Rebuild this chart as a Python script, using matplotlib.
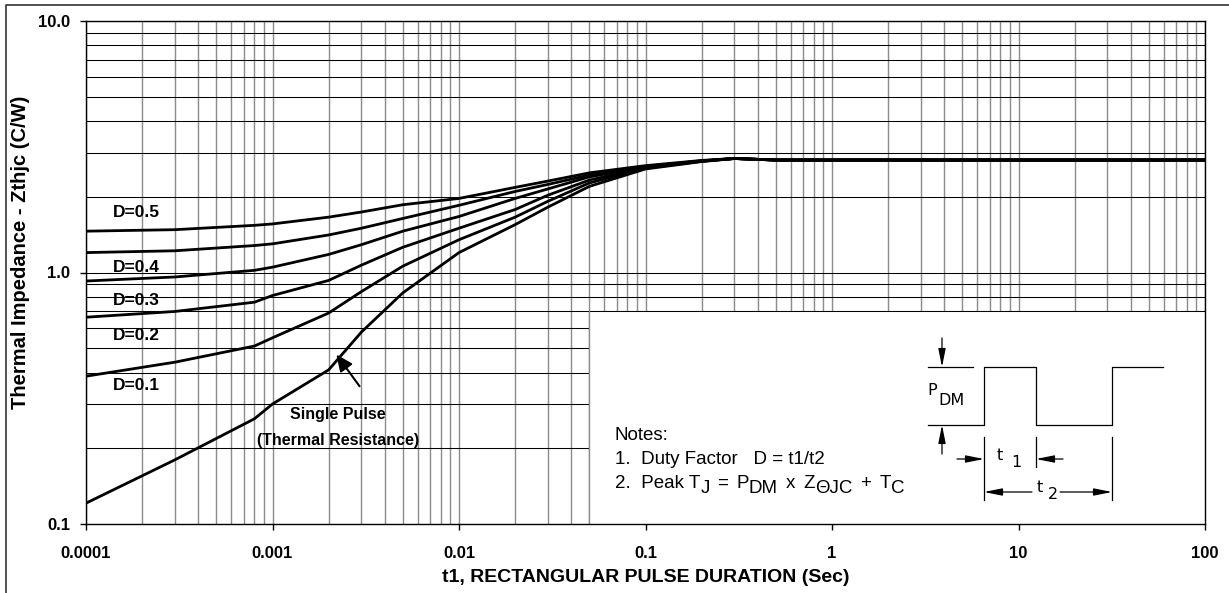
"""
Transient thermal impedance vs rectangular pulse duration (log-log), with duty-factor curves.
"""
import matplotlib
matplotlib.use("Agg")
import matplotlib.pyplot as plt
from matplotlib.patches import Rectangle
from matplotlib.ticker import LogLocator, FixedLocator, FixedFormatter, NullFormatter

plt.rcParams["font.family"] = ["Liberation Sans", "DejaVu Sans"]

# pulse duration t1 (s)
t_pulse = [1e-4, 3e-4, 8e-4, 1e-3, 2e-3, 3e-3, 5e-3, 1e-2, 2e-2, 3e-2, 5e-2,
           0.1, 0.2, 0.3, 0.5, 1, 10, 100]

# Zthjc (C/W) for each duty factor
z_d05 = [1.46, 1.48, 1.54, 1.56, 1.66, 1.74, 1.86, 1.97, 2.18, 2.31, 2.49,
         2.66, 2.79, 2.84, 2.80, 2.80, 2.80, 2.80]
z_d04 = [1.20, 1.22, 1.28, 1.30, 1.41, 1.50, 1.64, 1.85, 2.10, 2.24, 2.44,
         2.64, 2.78, 2.84, 2.80, 2.80, 2.80, 2.80]
z_d03 = [0.925, 0.96, 1.02, 1.05, 1.18, 1.29, 1.46, 1.67, 1.97, 2.15, 2.40,
         2.63, 2.78, 2.84, 2.80, 2.80, 2.80, 2.80]
z_d02 = [0.664, 0.70, 0.762, 0.81, 0.93, 1.07, 1.26, 1.50, 1.78, 2.03, 2.33,
         2.61, 2.77, 2.84, 2.80, 2.80, 2.80, 2.80]
z_d01 = [0.387, 0.44, 0.51, 0.55, 0.69, 0.84, 1.06, 1.35, 1.66, 1.92, 2.27,
         2.60, 2.77, 2.84, 2.80, 2.80, 2.80, 2.80]
z_single = [0.121, 0.18, 0.262, 0.30, 0.41, 0.58, 0.83, 1.20, 1.55, 1.82, 2.20,
            2.58, 2.76, 2.84, 2.80, 2.80, 2.80, 2.80]

curve_labels = ["D=0.5", "D=0.4", "D=0.3", "D=0.2", "D=0.1"]
label_y = [1.73, 1.05, 0.774, 0.564, 0.355]

x_ticks = [1e-4, 1e-3, 1e-2, 0.1, 1, 10, 100]
x_tick_labels = ["0.0001", "0.001", "0.01", "0.1", "1", "10", "100"]
y_ticks = [0.1, 1, 10]
y_tick_labels = ["0.1", "1.0", "10.0"]

W, H = 1229, 593
fig = plt.figure(figsize=(W / 100, H / 100), dpi=100)
ax = fig.add_axes([86 / W, 1 - 524 / H, (1205 - 86) / W, (524 - 21) / H])

ax.set_xscale("log")
ax.set_yscale("log")
ax.set_xlim(1e-4, 100)
ax.set_ylim(0.1, 10)

ax.xaxis.set_major_locator(FixedLocator(x_ticks))
ax.xaxis.set_major_formatter(FixedFormatter(x_tick_labels))
ax.yaxis.set_major_locator(FixedLocator(y_ticks))
ax.yaxis.set_major_formatter(FixedFormatter(y_tick_labels))
ax.xaxis.set_minor_locator(LogLocator(base=10, subs=range(2, 10), numticks=30))
ax.yaxis.set_minor_locator(LogLocator(base=10, subs=range(2, 10), numticks=30))
ax.xaxis.set_minor_formatter(NullFormatter())
ax.yaxis.set_minor_formatter(NullFormatter())
ax.tick_params(which="minor", length=0)
ax.tick_params(which="major", direction="out", length=4.5, width=1.0, color="k")
ax.tick_params(axis="x", pad=11)
ax.tick_params(axis="y", pad=7)
for lab in ax.get_xticklabels() + ax.get_yticklabels():
    lab.set_fontweight("bold")
    lab.set_fontsize(12)

ax.xaxis.grid(True, which="both", color="#8c8c8c", lw=1.0)
ax.yaxis.grid(True, which="both", color="black", lw=0.75)
for sp in ax.spines.values():
    sp.set_color("black")
    sp.set_linewidth(1.0)

# blank area for the notes
ax.add_patch(Rectangle((0.05, 0.1), 100 - 0.05, 0.7 - 0.1, facecolor="white",
                       edgecolor="none", zorder=1.8))
ax.hlines(0.7, 0.05, 100, color="black", lw=0.75, zorder=1.9)
ax.vlines(0.05, 0.1, 0.7, color="#8c8c8c", lw=1.0, zorder=1.9)

for z in [z_d05, z_d04, z_d03, z_d02, z_d01, z_single]:
    ax.plot(t_pulse, z, color="black", lw=2.0, zorder=3, solid_joinstyle="round")

for lab, yv in zip(curve_labels, label_y):
    ax.text(1.39e-4, yv, lab, fontsize=12.5, fontweight="bold", va="center", ha="left")

ax.text(2.24e-3, 0.2725, "Single Pulse", fontsize=11.5, fontweight="bold",
        ha="center", va="center")
ax.text(2.24e-3, 0.2148, "(Thermal Resistance)", fontsize=11.5, fontweight="bold",
        ha="center", va="center")
ax.annotate("", xy=(2.2e-3, 0.472), xytext=(2.93e-3, 0.353),
            arrowprops=dict(arrowstyle="-|>,head_length=1.0,head_width=0.45",
                            color="black", lw=1.5, shrinkA=0, shrinkB=0))

fig.text(646 / W, 1 - 577 / H, "t1, RECTANGULAR PULSE DURATION (Sec)",
         fontsize=14, fontweight="bold", ha="center", va="center")
fig.text(21 / W, 1 - 252 / H, "Thermal Impedance - Zthjc (C/W)",
         fontsize=14.5, fontweight="bold", ha="center", va="center", rotation=90)

# pixel overlay for frame, notes and pulse sketch
ov = fig.add_axes([0, 0, 1, 1], zorder=10)
ov.set_xlim(0, W)
ov.set_ylim(H, 0)
ov.axis("off")
ov.patch.set_alpha(0)

ov.plot([6, 6, W], [H, 5, 5], color="#333333", lw=1.2)

renderer = fig.canvas.get_renderer()
note_size = 13.5


def chain(x, y, parts, size=note_size):
    """Draw text pieces side by side: (text, gap before in px, drop in px)."""
    for s, gap, drop in parts:
        x += gap
        t = ov.text(x, y + drop, s, fontsize=size, ha="left", va="baseline")
        x += t.get_window_extent(renderer).width


g = 8
ov.text(615, 440, "Notes:", fontsize=note_size, ha="left", va="baseline")
ov.text(615, 464, "1.  Duty Factor   D = t1/t2", fontsize=note_size,
        ha="left", va="baseline")
chain(615, 488, [("2.  Peak T", 0, 0), ("J", 0, 5), ("=", g, 0), ("P", g, 0),
                 ("DM", 0, 5), ("x", g, 0), ("Z", g, 0), ("\u0398JC", 0, 5),
                 ("+", g, 0), ("T", g, 0), ("C", 0, 5)])

lw_d = 0.9
# pulse train
ov.plot([928, 984, 984, 1036, 1036, 1112, 1112, 1163],
        [425, 425, 367, 367, 425, 425, 367, 367], color="black", lw=lw_d)
ov.plot([928, 973], [367, 367], color="black", lw=lw_d)
# extension lines
ov.plot([984, 984], [437, 500], color="black", lw=lw_d)
ov.plot([1036, 1036], [437, 467], color="black", lw=lw_d)
ov.plot([1112, 1112], [437, 500], color="black", lw=lw_d)

arrow = dict(arrowstyle="-|>,head_length=1.1,head_width=0.22", color="black",
             lw=lw_d, shrinkA=0, shrinkB=0)
for tip, tail in [((942, 367), (942, 338)), ((942, 425), (942, 454)),
                  ((984, 459), (957, 459)), ((1036, 459), (1063, 459)),
                  ((984, 492), (1032, 492)), ((1112, 492), (1060, 492))]:
    ov.annotate("", xy=tip, xytext=tail, arrowprops=arrow)

dfont = dict(fontsize=11.5, family="DejaVu Sans", ha="left", va="baseline")
ov.text(927, 395, "P", **dfont)
ov.text(938, 405, "DM", **dfont)
ov.text(997, 460, "t", **dfont)
ov.text(1011, 467, "1", **dfont)
ov.text(1037, 492, "t", **dfont)
ov.text(1048, 499, "2", **dfont)

fig.savefig("out.png", dpi=100)
